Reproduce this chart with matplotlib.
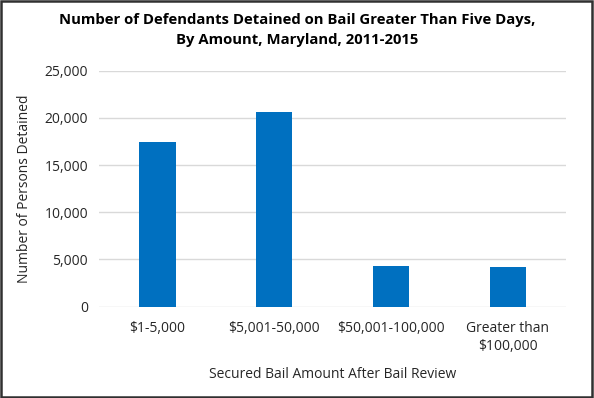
import matplotlib
matplotlib.use("Agg")
import matplotlib.pyplot as plt
from matplotlib.patches import Rectangle

categories = ["$1-5,000", "$5,001-50,000", "$50,001-100,000", "Greater than\n$100,000"]
values = [17450, 20650, 4340, 4170]
yticks = [0, 5000, 10000, 15000, 20000, 25000]

plt.rcParams['font.family'] = ['Open Sans', 'DejaVu Sans']

fig = plt.figure(figsize=(5.94, 3.98), dpi=100)
ax = fig.add_axes([0.1667, 0.2294, 0.7863, 0.593])
x = list(range(len(categories)))
ax.bar(x, values, width=0.31, color="#0070C0", zorder=3)
ax.set_xlim(-0.5, len(categories) - 0.5)
ax.set_ylim(0, 25000)
ax.set_yticks(yticks)
ax.set_yticklabels([f"{v:,}" for v in yticks], fontsize=10, color="#262626")
ax.set_xticks(x)
ax.set_xticklabels(categories, fontsize=10, color="#262626", linespacing=1.35)
ax.tick_params(axis="x", length=0, pad=10)
ax.tick_params(axis="y", length=0, pad=8)
ax.grid(axis="y", color="#d9d9d9", linewidth=1, zorder=0)
for s in ax.spines.values():
    s.set_visible(False)
ax.set_ylabel("Number of Persons Detained", fontsize=10, color="#262626", labelpad=9)
ax.set_xlabel("Secured Bail Amount After Bail Review", fontsize=10, color="#262626", labelpad=9)
fig.text(0.5, 0.925, "Number of Defendants Detained on Bail Greater Than Five Days,\nBy Amount, Maryland, 2011-2015",
         ha="center", va="center", fontsize=10.7, fontweight="bold", linespacing=1.55)
fig.patches.append(Rectangle((0.002, 0.003), 0.995, 0.994, transform=fig.transFigure,
                             fill=False, edgecolor="#303030", linewidth=1.8))
fig.savefig("out.png", dpi=100)
